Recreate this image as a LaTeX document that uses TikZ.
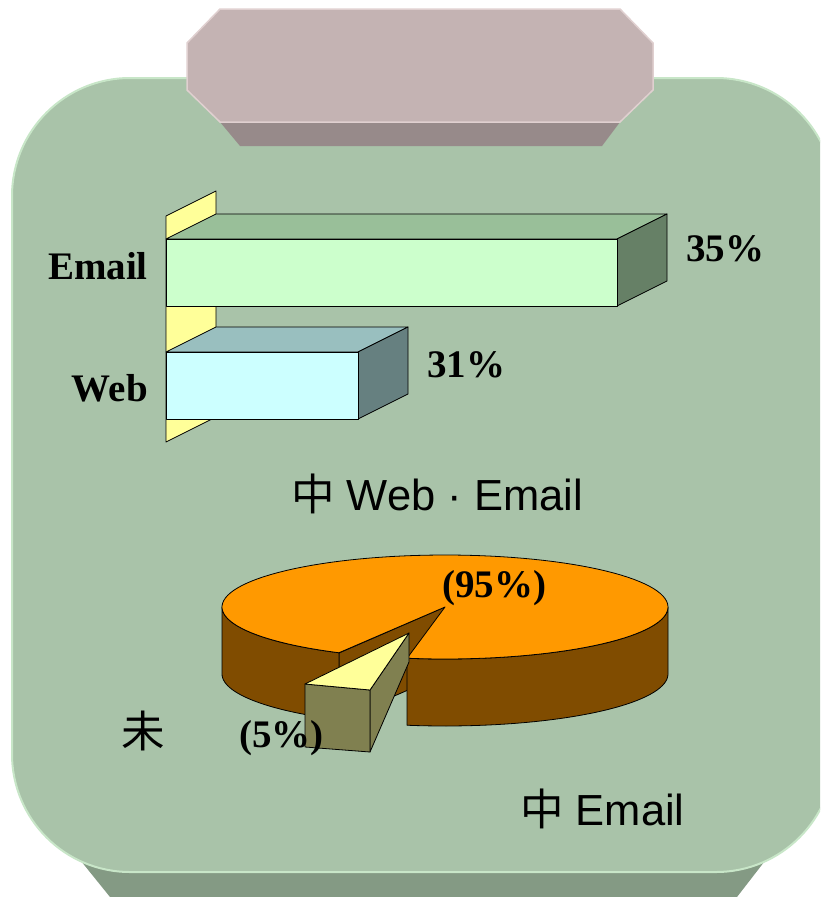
\documentclass[tikz,border=0pt]{standalone}
\usepackage{fontspec}
\setmainfont{Liberation Serif}
\setsansfont{Liberation Sans}
\newfontfamily\cjk{Noto Sans CJK SC}

\definecolor{boardgreen}{RGB}{169,195,169}
\definecolor{boardedge}{RGB}{200,230,200}
\definecolor{boardband}{RGB}{132,154,132}
\definecolor{tabface}{RGB}{196,179,179}
\definecolor{tabside}{RGB}{151,138,138}
\definecolor{tabedge}{RGB}{224,208,208}
\definecolor{wall}{RGB}{255,255,153}
\definecolor{emailfront}{RGB}{204,255,204}
\definecolor{emailtop}{RGB}{153,191,153}
\definecolor{emailside}{RGB}{102,128,102}
\definecolor{webfront}{RGB}{204,255,255}
\definecolor{webtop}{RGB}{153,191,191}
\definecolor{webside}{RGB}{102,128,128}
\definecolor{pietop}{RGB}{255,153,0}
\definecolor{pieside}{RGB}{128,76,0}
\definecolor{wedgetop}{RGB}{255,255,153}
\definecolor{wedgeside}{RGB}{128,128,80}

% one 3d bar: top y, right x, front, top and side colours
\newcommand{\barblock}[5]{%
  \draw[facet,fill=#4] (166,#1) -- (216,{#1-25}) -- ({#2+50},{#1-25}) -- (#2,#1) -- cycle;
  \draw[facet,fill=#5] (#2,#1) -- ({#2+50},{#1-25}) -- ({#2+50},{#1+42}) -- (#2,{#1+67}) -- cycle;
  \draw[facet,fill=#3] (166,#1) rectangle (#2,{#1+67});}

\begin{document}
\begin{tikzpicture}[x=1pt,y=-1pt,
    facet/.style={draw=black,line width=0.8pt,line join=round},
    pct/.style={font=\fontsize{39}{44}\selectfont\bfseries,inner sep=0pt},
    caption/.style={font=\fontsize{43.5}{48}\selectfont\sffamily,inner sep=0pt}]
  \useasboundingbox (0,0) rectangle (820,897);
  \clip (0,0) rectangle (820,897);

  % board and tab
  \fill[boardband] (60,835) -- (110,897) -- (737,897) -- (785,835) -- cycle;
  \draw[boardedge,line width=2pt,fill=boardgreen,rounded corners=118pt] (12,78) rectangle (834,872);
  \fill[tabside] (220,122) -- (620,122) -- (602,146) -- (240,146) -- cycle;
  \draw[tabedge,line width=1.5pt,fill=tabface] (220,9) -- (620,9) -- (653,43) -- (653,90)
    -- (620,122) -- (220,122) -- (187,90) -- (187,43) -- cycle;

  % bar chart
  \draw[facet,fill=wall] (166,216) -- (216,191) -- (216,417) -- (166,442) -- cycle;
  \barblock{239}{617}{emailfront}{emailtop}{emailside}
  \barblock{352}{358}{webfront}{webtop}{webside}
  \node[pct,anchor=base east] (emaillbl) at (148,279) {Email};
  \node[pct,anchor=base east] (weblbl) at (148,401) {Web};
  \node[pct,anchor=base west] (emailpct) at (686,261) {35\%};
  \node[pct,anchor=base west] (webpct) at (427,377) {31\%};
  \node[caption,anchor=base west] (barcap) at (291,510) {{\cjk 中} Web · Email};

  % pie chart
  \draw[facet,fill=pieside] (445,607) -- (339,653) -- (339,720) -- (445,674) -- cycle;
  \draw[facet,fill=pieside] plot[domain=118.4:180,samples=30] ({445+223*cos(\x)},{607+52*sin(\x)})
    -- plot[domain=180:118.4,samples=30] ({445+223*cos(\x)},{674+52*sin(\x)}) -- cycle;
  \draw[facet,fill=pieside] plot[domain=0:99.8,samples=40] ({445+223*cos(\x)},{607+52*sin(\x)})
    -- plot[domain=99.8:0,samples=40] ({445+223*cos(\x)},{674+52*sin(\x)}) -- cycle;
  \draw[facet,fill=pietop] (445,607)
    -- plot[domain=118.4:459.8,samples=120] ({445+223*cos(\x)},{607+52*sin(\x)}) -- cycle;
  % pulled-out slice
  \draw[facet,fill=wedgeside] (370,690) -- (409,633) -- (409,662) -- (370,752) -- cycle;
  \draw[facet,fill=wedgeside] (305,684) -- (370,690) -- (370,752) -- (305,747) -- cycle;
  \draw[facet,fill=wedgetop] (409,633) -- (305,684) -- (370,690) -- cycle;
  \node[pct,anchor=base west] (bigpct) at (442,597) {(95\%)};
  \node[pct,anchor=base west] (smallpct) at (239,747) {(5\%)};
  \node[caption,anchor=base west] (notyet) at (121,747) {\cjk 未};
  \node[caption,anchor=base west] (piecap) at (520,825) {{\cjk 中} Email};
\end{tikzpicture}
\end{document}
